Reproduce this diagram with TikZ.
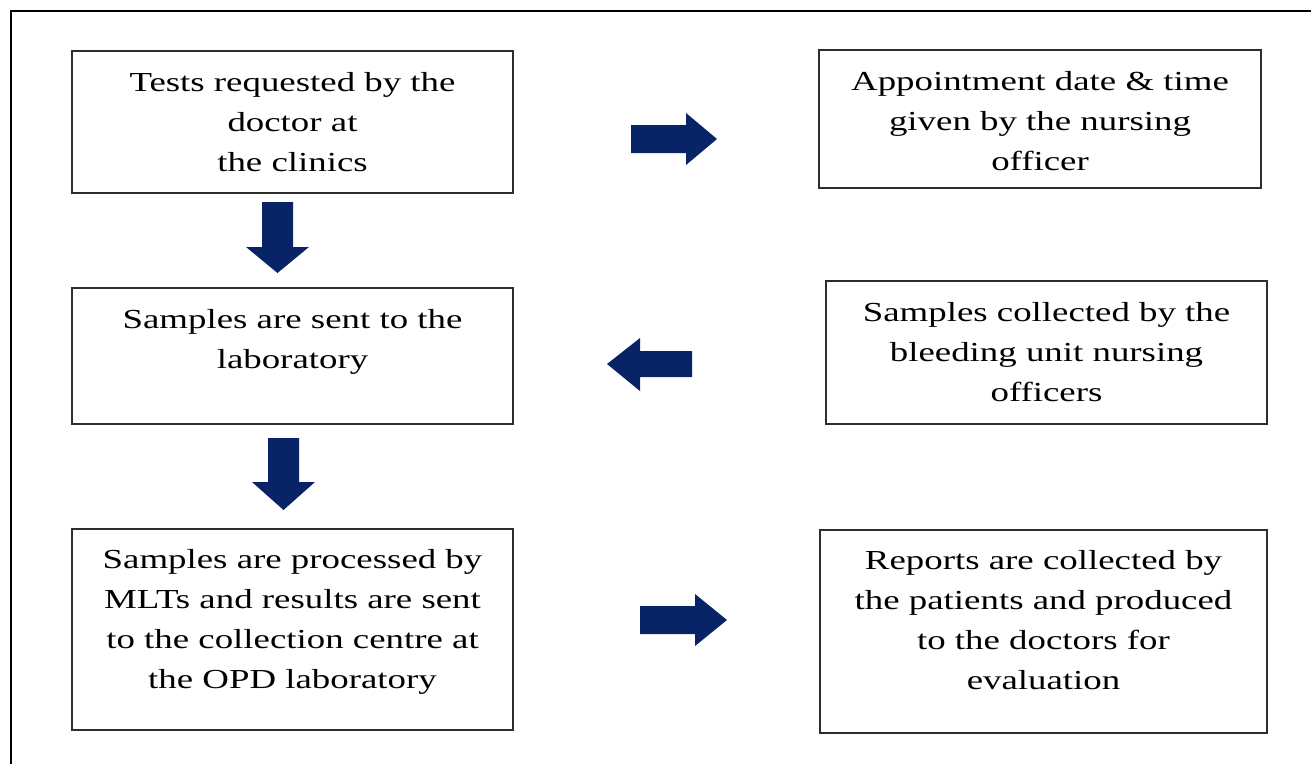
\documentclass[tikz,border=0pt]{standalone}
\usepackage{fontspec}
\setmainfont{Liberation Serif}[FakeStretch=1.34]
\definecolor{arrownavy}{RGB}{8,36,102}
\definecolor{boxline}{RGB}{45,45,45}
\newcommand{\firstline}{\rule{0pt}{20pt}}
\begin{document}
\begin{tikzpicture}[x=1pt,y=-1pt,
  boxedge/.style={draw=boxline, line width=1.8pt},
  boxtext/.style={anchor=north, align=center, inner sep=0pt,
    font=\fontsize{27.5}{40}\selectfont},
  blockarrow/.style={fill=arrownavy, draw=none}]
\useasboundingbox (0,0) rectangle (1311,764);

% frame around the page
\draw[line width=2pt, black] (11,764) -- (11,11) -- (1311,11);

% process boxes
\draw[boxedge] (72,51) rectangle (513,193);
\draw[boxedge] (819,50) rectangle (1261,188);
\draw[boxedge] (72,288) rectangle (513,424);
\draw[boxedge] (826,281) rectangle (1267,424);
\draw[boxedge] (72,529) rectangle (513,730);
\draw[boxedge] (820,530) rectangle (1267,733);

% box texts, first baseline about 39pt below the box top
\node[boxtext] (t1) at (292.5,71) {\firstline Tests requested by the\\doctor at\\the clinics};
\node[boxtext] (t2) at (1040,70) {\firstline Appointment date \& time\\given by the nursing\\officer};
\node[boxtext] (t3) at (292.5,308) {\firstline Samples are sent to the\\laboratory};
\node[boxtext] (t4) at (1046.5,301) {\firstline Samples collected by the\\bleeding unit nursing\\officers};
\node[boxtext] (t5) at (292.5,548) {\firstline Samples are processed by\\MLTs and results are sent\\to the collection centre at\\the OPD laboratory};
\node[boxtext] (t6) at (1043.5,549) {\firstline Reports are collected by\\the patients and produced\\to the doctors for\\evaluation};

% block arrows
\fill[blockarrow] (631,125) -- (686,125) -- (686,113) -- (717,139) -- (686,165) -- (686,153) -- (631,153) -- cycle;
\fill[blockarrow] (262,202) -- (293,202) -- (293,247) -- (309,247) -- (277.5,273) -- (246,247) -- (262,247) -- cycle;
\fill[blockarrow] (692,351) -- (640,351) -- (640,338) -- (607,364) -- (640,391) -- (640,377) -- (692,377) -- cycle;
\fill[blockarrow] (268,438) -- (299,438) -- (299,482) -- (315,482) -- (283.5,510) -- (252,482) -- (268,482) -- cycle;
\fill[blockarrow] (640,606) -- (695,606) -- (695,594) -- (727,620) -- (695,646) -- (695,634) -- (640,634) -- cycle;
\end{tikzpicture}
\end{document}
